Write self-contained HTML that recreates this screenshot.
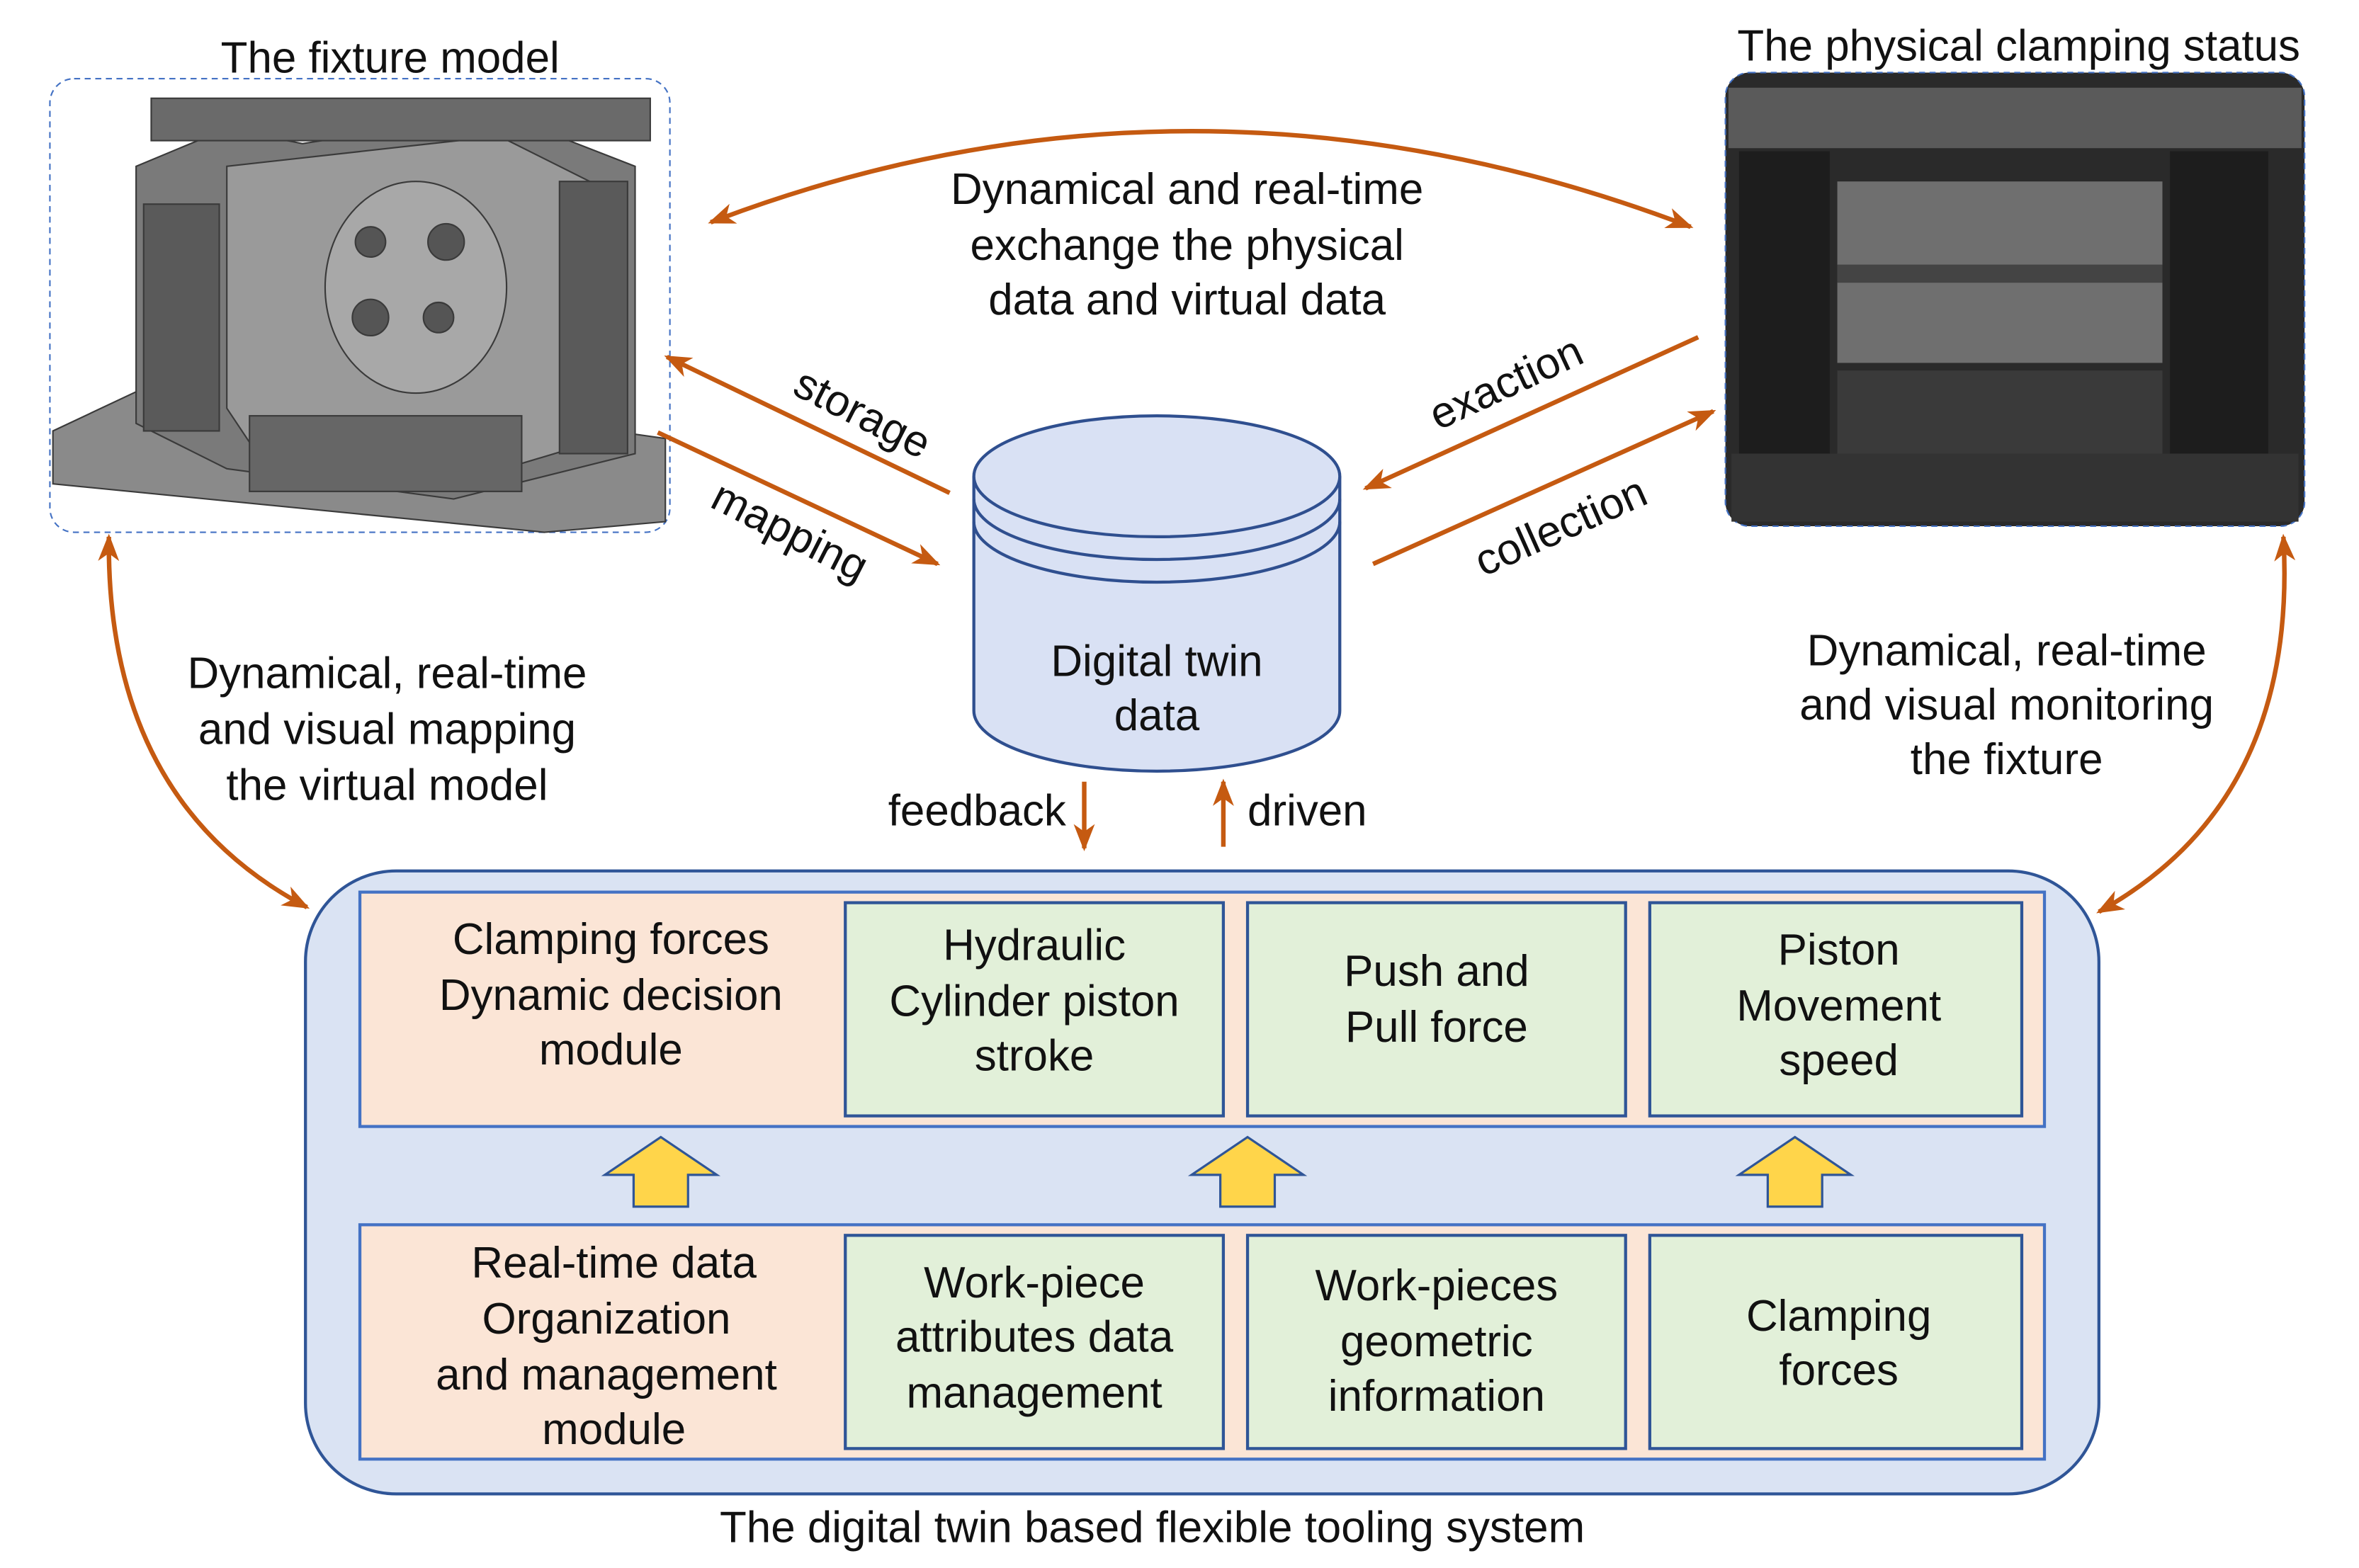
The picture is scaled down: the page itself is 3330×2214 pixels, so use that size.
<!DOCTYPE html>
<html><head><meta charset="utf-8"><style>
html,body{margin:0;padding:0;background:#fff}
svg{display:block}
text{font-family:"Liberation Sans","DejaVu Sans",sans-serif;fill:#111;font-size:29px}
</style></head><body>
<svg width="3330" height="2214" viewBox="0 0 1560 1037" preserveAspectRatio="none" xmlns="http://www.w3.org/2000/svg">
<defs>
<marker id="a" markerWidth="10" markerHeight="10" refX="8" refY="5" orient="auto" markerUnits="userSpaceOnUse" viewBox="0 0 10 10">
<path d="M0,0 L10,5 L0,10 L3,5 z" fill="#c55a11"/></marker>
<marker id="as" markerWidth="18" markerHeight="14" refX="16" refY="7" orient="auto" markerUnits="userSpaceOnUse" viewBox="0 0 18 14">
<path d="M0,0 L18,7 L0,14 L5,7 z" fill="#c55a11"/></marker>
<marker id="ar" markerWidth="18" markerHeight="14" refX="2" refY="7" orient="auto" markerUnits="userSpaceOnUse" viewBox="0 0 18 14">
<path d="M18,0 L0,7 L18,14 L13,7 z" fill="#c55a11"/></marker>
</defs>
<!-- left image -->
<rect x="33" y="52" width="410" height="300" rx="16" fill="#fff" stroke="#4472c4" stroke-dasharray="4,3"/>
<g fill="#6d6d6d" stroke="#3a3a3a" stroke-width="1">
<polygon points="35,285 120,245 440,290 440,345 360,352 35,320" fill="#8a8a8a"/>
<polygon points="90,110 150,85 200,95 330,75 420,110 420,300 300,330 150,310 90,280" fill="#7a7a7a"/>
<polygon points="150,110 330,90 400,125 400,290 300,320 170,300 150,270" fill="#9a9a9a"/>
<ellipse cx="275" cy="190" rx="60" ry="70" fill="#a8a8a8"/>
<circle cx="245" cy="160" r="10" fill="#555"/><circle cx="295" cy="160" r="12" fill="#555"/><circle cx="245" cy="210" r="12" fill="#555"/><circle cx="290" cy="210" r="10" fill="#555"/>
<rect x="95" y="135" width="50" height="150" fill="#5a5a5a"/>
<rect x="370" y="120" width="45" height="180" fill="#5a5a5a"/>
<rect x="100" y="65" width="330" height="28" fill="#6a6a6a"/>
<rect x="165" y="275" width="180" height="50" fill="#666"/>
</g>
<text x="258" y="48" text-anchor="middle">The fixture model</text>
<!-- right image -->
<rect x="1141" y="48" width="383" height="300" rx="16" fill="#2a2a2a" stroke="#4472c4" stroke-dasharray="4,3"/>
<g>
<rect x="1143" y="58" width="379" height="40" fill="#5a5a5a"/>
<rect x="1150" y="100" width="60" height="230" fill="#1d1d1d"/>
<rect x="1435" y="100" width="65" height="230" fill="#1d1d1d"/>
<rect x="1215" y="120" width="215" height="120" fill="#6f6f6f"/>
<rect x="1215" y="175" width="215" height="12" fill="#444"/>
<rect x="1215" y="245" width="215" height="60" fill="#3a3a3a"/>
<rect x="1145" y="300" width="375" height="45" fill="#333"/>
</g>
<text x="1335" y="40" text-anchor="middle">The physical clamping status</text>
<!-- top exchange arrow -->
<path d="M470,147 Q790,25 1118,150" fill="none" stroke="#c55a11" stroke-width="3" marker-start="url(#ar)" marker-end="url(#as)"/>
<text x="785" y="135" text-anchor="middle">Dynamical and real-time</text>
<text x="785" y="172" text-anchor="middle">exchange the physical</text>
<text x="785" y="208" text-anchor="middle">data and virtual data</text>
<!-- side arrows -->
<g stroke="#c55a11" stroke-width="3" fill="none">
<line x1="628" y1="326" x2="441" y2="236" marker-end="url(#as)"/>
<line x1="435" y1="286" x2="620" y2="373" marker-end="url(#as)"/>
<line x1="1123" y1="223" x2="903" y2="323" marker-end="url(#as)"/>
<line x1="908" y1="373" x2="1133" y2="272" marker-end="url(#as)"/>
<path d="M72,355 Q70,530 203,600" marker-start="url(#ar)" marker-end="url(#as)"/>
<path d="M1510,355 Q1520,530 1388,603" marker-start="url(#ar)" marker-end="url(#as)"/>
<line x1="717" y1="517" x2="717" y2="561" marker-end="url(#as)"/>
<line x1="809" y1="560" x2="809" y2="517" marker-end="url(#as)"/>
</g>
<text transform="translate(566,282) rotate(27)" text-anchor="middle">storage</text>
<text transform="translate(518,360) rotate(27)" text-anchor="middle">mapping</text>
<text transform="translate(1000,262) rotate(-25)" text-anchor="middle">exaction</text>
<text transform="translate(1036,357) rotate(-24)" text-anchor="middle">collection</text>
<!-- cylinder -->
<path d="M644,315 L644,470 A121,40 0 0 0 886,470 L886,315" fill="#d9e1f4" stroke="#2f4f8f" stroke-width="2"/>
<ellipse cx="765" cy="315" rx="121" ry="40" fill="#d9e1f4" stroke="#2f4f8f" stroke-width="2"/>
<path d="M644,330 A121,40 0 0 0 886,330 M644,345 A121,40 0 0 0 886,345" fill="none" stroke="#2f4f8f" stroke-width="2"/>
<text x="765" y="447" text-anchor="middle">Digital twin</text>
<text x="765" y="483" text-anchor="middle">data</text>
<text x="705" y="546" text-anchor="end">feedback</text>
<text x="825" y="546">driven</text>
<text x="256" y="455" text-anchor="middle">Dynamical, real-time</text>
<text x="256" y="492" text-anchor="middle">and visual mapping</text>
<text x="256" y="529" text-anchor="middle">the virtual model</text>
<text x="1327" y="440" text-anchor="middle">Dynamical, real-time</text>
<text x="1327" y="476" text-anchor="middle">and visual monitoring</text>
<text x="1327" y="512" text-anchor="middle">the fixture</text>
<!-- system -->
<rect x="202" y="576" width="1186" height="412" rx="60" fill="#dae3f3" stroke="#2f5597" stroke-width="2"/>
<rect x="238" y="590" width="1114" height="155" fill="#fbe5d6" stroke="#4472c4" stroke-width="2"/>
<rect x="238" y="810" width="1114" height="155" fill="#fbe5d6" stroke="#4472c4" stroke-width="2"/>
<g fill="#e2f0d9" stroke="#2f5597" stroke-width="2">
<rect x="559" y="597" width="250" height="141"/><rect x="825" y="597" width="250" height="141"/><rect x="1091" y="597" width="246" height="141"/>
<rect x="559" y="817" width="250" height="141"/><rect x="825" y="817" width="250" height="141"/><rect x="1091" y="817" width="246" height="141"/>
</g>
<g fill="#ffd54a" stroke="#2f5597" stroke-width="1.5">
<polygon points="437,752 474,777 455,777 455,798 419,798 419,777 400,777"/>
<polygon points="825,752 862,777 843,777 843,798 807,798 807,777 788,777"/>
<polygon points="1187,752 1224,777 1205,777 1205,798 1169,798 1169,777 1150,777"/>
</g>
<g text-anchor="middle">
<text x="404" y="631">Clamping forces</text><text x="404" y="668">Dynamic decision</text><text x="404" y="704">module</text>
<text x="684" y="635">Hydraulic</text><text x="684" y="672">Cylinder piston</text><text x="684" y="708">stroke</text>
<text x="950" y="652">Push and</text><text x="950" y="689">Pull force</text>
<text x="1216" y="638">Piston</text><text x="1216" y="675">Movement</text><text x="1216" y="711">speed</text>
<text x="406" y="845">Real-time data</text><text x="401" y="882">Organization</text><text x="401" y="919">and management</text><text x="406" y="955">module</text>
<text x="684" y="858">Work-piece</text><text x="684" y="894">attributes data</text><text x="684" y="931">management</text>
<text x="950" y="860">Work-pieces</text><text x="950" y="897">geometric</text><text x="950" y="933">information</text>
<text x="1216" y="880">Clamping</text><text x="1216" y="916">forces</text>
<text x="762" y="1020">The digital twin based flexible tooling system</text>
</g>
</svg>
</body></html>
